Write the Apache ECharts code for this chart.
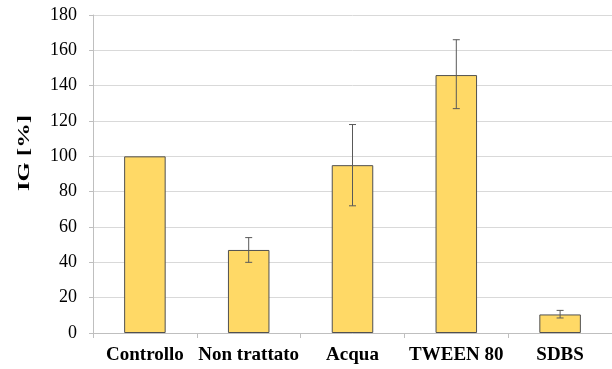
<!DOCTYPE html>
<html><head><meta charset="utf-8">
<script src="https://cdn.jsdelivr.net/npm/echarts@6/dist/echarts.min.js"></script>
<style>html,body{margin:0;padding:0;background:#fff}#c{width:612px;height:369px}</style>
</head><body><div id="c"></div>
<script>
const categories = ['Controllo', 'Non trattato', 'Acqua', 'TWEEN 80', 'SDBS'];
const values = [100, 47, 95, 146, 10.5];
const errLow = [null, 40, 72, 127, 8.5];
const errHigh = [null, 54, 118, 166, 12.8];
const yTicks = [0, 20, 40, 60, 80, 100, 120, 140, 160, 180];
const yTitle = 'IG [%]';

const chart = echarts.init(document.getElementById('c'));
const errData = categories.map((c, i) => [i, errLow[i], errHigh[i]]).filter(d => d[1] !== null);
chart.setOption({
  animation: false,
  grid: { left: 93, top: 15, width: 522, height: 318 },
  graphic: [{
    type: 'text', x: 25, y: 153, rotation: Math.PI / 2, scaleX: 1.45,
    style: { text: yTitle, fill: '#000', font: 'bold 17px "Liberation Serif"', align: 'center', verticalAlign: 'middle' }
  }],
  xAxis: {
    type: 'category', data: categories,
    axisLine: { lineStyle: { color: '#bfbfbf', width: 1 } },
    axisTick: { show: true, length: 5, lineStyle: { color: '#bfbfbf' } },
    axisLabel: { interval: 0, color: '#000', fontFamily: 'Liberation Serif', fontWeight: 'bold', fontSize: 19, margin: 13 }
  },
  yAxis: {
    type: 'value', min: yTicks[0], max: yTicks[yTicks.length - 1], interval: 20,
    axisLine: { show: true, lineStyle: { color: '#bfbfbf', width: 1 } },
    axisTick: { show: true, length: 4, lineStyle: { color: '#bfbfbf' } },
    splitLine: { lineStyle: { color: '#d9d9d9', width: 1 } },
    axisLabel: { color: '#000', fontFamily: 'Liberation Serif', fontSize: 18, margin: 16 }
  },
  series: [
    {
      type: 'bar', data: values, barWidth: '40%',
      itemStyle: { color: '#FFD966', borderColor: '#505050', borderWidth: 1 }
    },
    {
      type: 'custom', data: errData, z: 10,
      renderItem: function (params, api) {
        const x = api.value(0);
        const lo = api.coord([x, api.value(1)]);
        const hi = api.coord([x, api.value(2)]);
        const w = 3.5;
        const st = { stroke: '#595959', lineWidth: 1 };
        return { type: 'group', children: [
          { type: 'line', shape: { x1: lo[0], y1: lo[1], x2: hi[0], y2: hi[1] }, style: st },
          { type: 'line', shape: { x1: lo[0] - w, y1: lo[1], x2: lo[0] + w, y2: lo[1] }, style: st },
          { type: 'line', shape: { x1: hi[0] - w, y1: hi[1], x2: hi[0] + w, y2: hi[1] }, style: st }
        ]};
      }
    }
  ]
});
</script></body></html>
